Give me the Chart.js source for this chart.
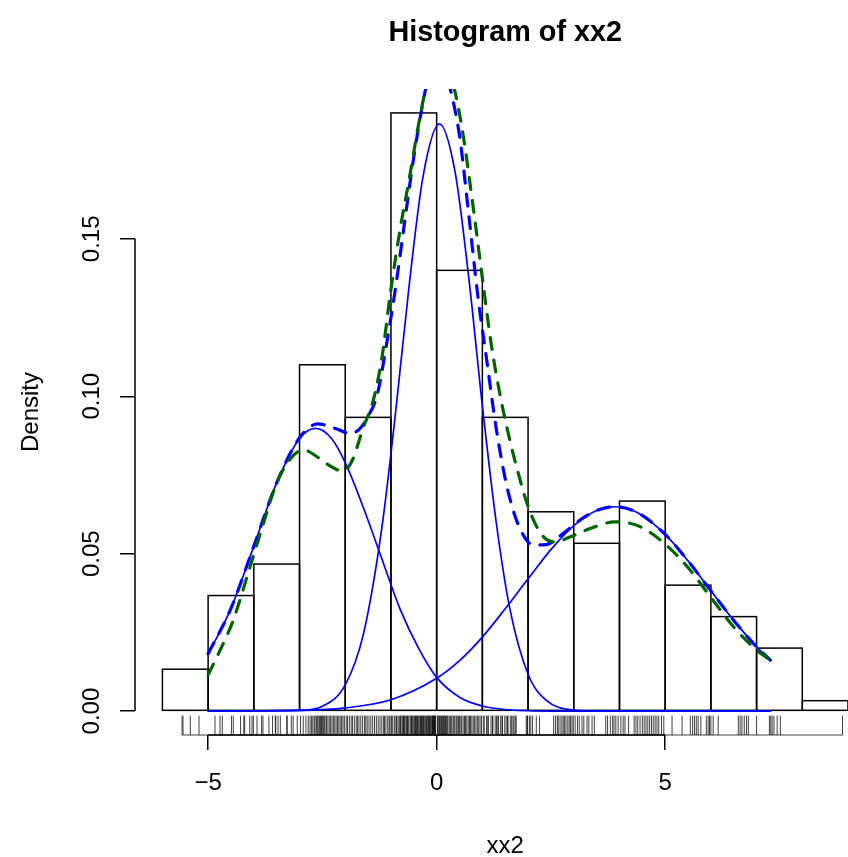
<!DOCTYPE html>
<html><head><meta charset="utf-8">
<script src="https://cdn.jsdelivr.net/npm/chart.js@4.4.0/dist/chart.umd.min.js"></script>
<style>html,body{margin:0;padding:0;background:#fff}canvas{display:block}</style>
</head><body>
<canvas id="c" width="848" height="857"></canvas>
<script>
// ---------- data ----------
const breaks = [-6,-5,-4,-3,-2,-1,0,1,2,3,4,5,6,7,8,9];
const density = [0.0133,0.0367,0.0467,0.1100,0.0933,0.1900,0.1400,0.0933,0.0633,0.0533,0.0667,0.0400,0.0300,0.0200,0.0033];

const comp1X = [-5.0,-4.5,-4.0,-3.5,-3.0,-2.65,-2.3,-2.0,-1.6,-1.2,-0.8,-0.4,0.0,0.5,1.0,1.5,2.0,2.5,3.0,7.3];
const comp1Y = [0.0180,0.0326,0.0524,0.0725,0.0866,0.0898,0.0866,0.0789,0.0645,0.0484,0.0324,0.0201,0.0107,0.0044,0.0016,0.0005,0.0001,0.0,0.0,0.0];

const comp2X = [-5.0,-3.0,-2.5,-2.0,-1.6,-1.2,-0.9,-0.6,-0.3,0.06,0.4,0.7,1.0,1.3,1.6,2.0,2.4,3.0,3.5,7.3];
const comp2Y = [0.0,0.0002,0.0015,0.0083,0.0246,0.0581,0.0947,0.1354,0.1696,0.1865,0.1715,0.1380,0.0970,0.0603,0.0326,0.0117,0.0034,0.0003,0.0,0.0];

const comp3X = [-5.0,-3.0,-2.0,-1.0,0.0,0.5,1.0,1.5,2.0,2.5,3.0,3.5,3.9,4.4,5.0,5.5,6.0,6.5,7.0,7.3];
const comp3Y = [0.0,0.0002,0.0010,0.0036,0.0104,0.0160,0.0235,0.0325,0.0420,0.0513,0.0589,0.0637,0.0649,0.0630,0.0561,0.0477,0.0382,0.0288,0.0204,0.0162];

const mixX = [-5.0,-4.5,-4.0,-3.5,-3.0,-2.6,-2.2,-1.9,-1.7,-1.5,-1.3,-1.1,-0.9,-0.7,-0.5,-0.3,-0.1,0.1,0.3,0.5,0.7,0.9,1.1,1.3,1.5,1.7,1.9,2.1,2.4,2.8,3.2,3.6,3.9,4.4,5.0,5.5,6.0,6.5,7.0,7.3];
const mixY = [0.0182,0.0326,0.0524,0.0725,0.0868,0.0912,0.0897,0.0882,0.0894,0.0936,0.1005,0.1162,0.1344,0.1554,0.1760,0.1933,0.2056,0.2074,0.1975,0.1828,0.1580,0.1320,0.1110,0.0901,0.0738,0.0626,0.0558,0.0528,0.0529,0.0568,0.0613,0.0642,0.0649,0.0630,0.0561,0.0477,0.0382,0.0288,0.0204,0.0162];

const kdeX = [-5.0,-4.7,-4.45,-4.1,-3.8,-3.5,-3.15,-2.9,-2.6,-2.3,-2.05,-1.85,-1.6,-1.4,-1.2,-1.0,-0.8,-0.6,-0.4,-0.2,0.05,0.3,0.45,0.6,0.8,1.0,1.2,1.4,1.6,1.8,2.0,2.3,2.6,2.9,3.4,3.9,4.45,5.0,5.5,6.0,6.5,7.0,7.3];
const kdeY = [0.0115,0.0205,0.0289,0.0450,0.0592,0.0724,0.0810,0.0829,0.0806,0.0776,0.0762,0.0795,0.0903,0.0980,0.1120,0.1340,0.1530,0.1690,0.1860,0.2000,0.2080,0.2020,0.1935,0.1810,0.1600,0.1375,0.1160,0.0995,0.0861,0.0748,0.0650,0.0560,0.0537,0.0552,0.0582,0.0601,0.0586,0.0530,0.0456,0.0361,0.0267,0.0194,0.0162];

const rugX = [
 -5.57,-5.55,-5.39,-5.20,
 -4.85,-4.74,-4.69,-4.49,-4.45,-4.29,-4.22,-4.20,-4.09,-4.04,-4.01,
 -3.93,-3.83,-3.80,-3.67,-3.59,-3.53,-3.52,-3.47,-3.42,-3.28,-3.27,-3.18,-3.14,-3.05,
 -2.98,-2.92,-2.86,-2.81,-2.77,-2.74,-2.71,-2.68,-2.66,-2.63,-2.61,-2.58,-2.56,-2.54,-2.52,-2.50,-2.48,
 -2.46,-2.44,-2.41,-2.38,-2.35,-2.32,-2.29,-2.26,-2.23,-2.20,-2.17,-2.14,-2.11,-2.08,-2.05,-2.02,
 -1.98,-1.95,-1.91,-1.87,-1.84,-1.80,-1.76,-1.73,-1.70,-1.66,-1.62,-1.58,-1.55,-1.52,-1.48,-1.44,
 -1.40,-1.36,-1.32,-1.28,-1.24,-1.20,-1.16,-1.14,-1.11,-1.07,-1.04,-1.02,
 -0.99,-0.97,-0.93,-0.91,-0.88,-0.87,-0.84,-0.81,-0.79,-0.78,-0.75,-0.73,-0.72,-0.69,-0.66,-0.64,
 -0.63,-0.61,-0.58,-0.56,-0.55,-0.53,-0.50,-0.49,-0.47,-0.44,-0.42,-0.41,-0.39,-0.37,-0.35,-0.34,
 -0.31,-0.29,-0.28,-0.26,-0.24,-0.22,-0.21,-0.19,-0.18,-0.16,-0.15,-0.13,-0.12,-0.10,-0.09,-0.08,
 -0.07,-0.06,-0.05,-0.04,-0.03,-0.02,-0.46,-0.33,-0.70,
 0.02,0.03,0.05,0.06,0.08,0.10,0.11,0.13,0.15,0.17,0.19,0.20,0.22,0.24,0.27,0.29,0.31,0.33,0.36,0.38,
 0.40,0.43,0.45,0.48,0.50,0.53,0.55,0.58,0.61,0.63,0.66,0.69,0.72,0.74,0.77,0.80,0.83,0.86,0.89,0.92,0.95,0.98,
 1.02,1.04,1.09,1.12,1.13,1.19,1.22,1.23,1.28,1.31,1.34,1.35,1.40,1.43,1.44,1.49,1.52,1.55,1.56,1.61,
 1.64,1.67,1.69,1.72,1.74,1.96,1.98,1.99,
 2.03,2.06,2.10,2.18,2.25,2.56,2.60,2.64,2.66,2.70,2.74,2.77,2.80,2.83,2.87,2.90,2.93,2.96,2.99,
 3.03,3.08,3.12,3.18,3.22,3.29,3.33,3.40,3.45,3.70,3.74,3.80,3.85,3.88,3.92,3.97,
 4.03,4.08,4.12,4.20,4.32,4.36,4.40,4.45,4.50,4.54,4.58,4.62,4.66,4.70,4.74,4.78,4.82,4.86,4.92,4.97,
 5.15,5.37,5.55,5.60,5.64,5.68,5.72,5.78,5.90,5.94,5.97,6.00,
 6.05,6.16,6.60,6.64,6.68,6.73,6.78,6.82,7.00,
 7.28,7.31,7.34,7.38,7.45,7.52,
 8.88
];

const xTicks = [-5, 0, 5];
const yTicks = [0, 0.05, 0.10, 0.15];
const titleText = 'Histogram of xx2';
const xLabel = 'xx2';
const yLabel = 'Density';

// ---------- chart ----------
const FONT = "'Liberation Sans', Arial, Helvetica, sans-serif";
const usrX = [-6.6, 9.6];   // full R plot range in x (right part cropped)
const pts = (xs, ys) => xs.map((x, i) => ({x, y: ys[i]}));
const bars = density.map((d, i) => ({x: (breaks[i] + breaks[i+1]) / 2, y: d}));

const rStyle = {
  id: 'rStyle',
  afterDatasetDraw(chart, args) {
    // outline histogram bars as R does: one 1.5px line centred on each bar edge
    if (args.meta.type !== 'bar') return;
    const ctx = chart.ctx;
    ctx.save();
    ctx.strokeStyle = '#000';
    ctx.lineWidth = 1.5;
    for (const el of args.meta.data) {
      const p = el.getProps(['x', 'y', 'base', 'width'], true);
      ctx.strokeRect(p.x - p.width / 2, p.y, p.width, p.base - p.y);
    }
    ctx.restore();
  },
  afterDatasetsDraw(chart) {
    const {ctx, chartArea: a, scales: {x: xs}} = chart;
    ctx.save();
    const rugLen = 0.03 * (a.bottom - a.top);
    ctx.strokeStyle = '#000';
    ctx.lineWidth = 0.75;
    ctx.beginPath();
    for (const v of rugX) {
      const px = xs.getPixelForValue(v);
      ctx.moveTo(px, a.bottom);
      ctx.lineTo(px, a.bottom - rugLen);
    }
    ctx.moveTo(xs.getPixelForValue(Math.min(...rugX)), a.bottom);
    ctx.lineTo(xs.getPixelForValue(Math.max(...rugX)), a.bottom);
    ctx.stroke();
    ctx.restore();
  },
  afterDraw(chart) {
    const {ctx, chartArea: a, scales: {x: xs, y: ys}} = chart;
    ctx.save();
    ctx.strokeStyle = '#000';
    ctx.lineWidth = 1.5;
    ctx.beginPath();
    ctx.moveTo(xs.getPixelForValue(xTicks[0]), a.bottom);
    ctx.lineTo(xs.getPixelForValue(xTicks[xTicks.length-1]), a.bottom);
    ctx.moveTo(a.left, ys.getPixelForValue(yTicks[0]));
    ctx.lineTo(a.left, ys.getPixelForValue(yTicks[yTicks.length-1]));
    ctx.stroke();

    ctx.fillStyle = '#000';
    ctx.font = '24px ' + FONT;
    ctx.textAlign = 'center';
    ctx.textBaseline = 'alphabetic';
    for (const v of xTicks) {
      const lab = v < 0 ? '\u2212' + Math.abs(v) : String(v);
      ctx.fillText(lab, xs.getPixelForValue(v), a.bottom + 55);
    }
    ctx.fillText(xLabel, (xs.getPixelForValue(usrX[0]) + xs.getPixelForValue(usrX[1])) / 2, a.bottom + 118);

    for (const v of yTicks) {
      ctx.save();
      ctx.translate(a.left - 36.5, ys.getPixelForValue(v));
      ctx.rotate(-Math.PI / 2);
      ctx.fillText(v.toFixed(2), 0, 0);
      ctx.restore();
    }
    ctx.save();
    ctx.translate(a.left - 97, (a.top + a.bottom) / 2);
    ctx.rotate(-Math.PI / 2);
    ctx.fillText(yLabel, 0, 0);
    ctx.restore();

    ctx.font = 'bold 28.8px ' + FONT;
    ctx.fillText(titleText, (xs.getPixelForValue(usrX[0]) + xs.getPixelForValue(usrX[1])) / 2, 40.5);
    ctx.restore();
  }
};

const lineDs = (label, xs, ys, color, width, dash, order) => ({
  type: 'line', label, data: pts(xs, ys), borderColor: color, borderWidth: width,
  borderDash: dash, borderCapStyle: 'round', pointRadius: 0, fill: false,
  cubicInterpolationMode: 'monotone', clip: 0, order
});

new Chart(document.getElementById('c'), {
  type: 'bar',
  data: {
    datasets: [
      {type: 'bar', label: 'hist', data: bars, backgroundColor: 'rgba(0,0,0,0)',
       borderColor: 'rgba(0,0,0,0)', borderWidth: 0,
       barPercentage: 1, categoryPercentage: 1, order: 10},
      lineDs('comp1', comp1X, comp1Y, '#0000ff', 1.7, [], 5),
      lineDs('comp2', comp2X, comp2Y, '#0000ff', 1.7, [], 4),
      lineDs('comp3', comp3X, comp3Y, '#0000ff', 1.7, [], 3),
      lineDs('mixture', mixX, mixY, '#0000ff', 3.2, [12, 11], 2),
      lineDs('kde', kdeX, kdeY, '#006400', 3.2, [12, 11], 1)
    ]
  },
  options: {
    responsive: false, animation: false, devicePixelRatio: 1,
    layout: {padding: {top: 89, right: 0, bottom: 0, left: 0}},
    plugins: {legend: {display: false}, tooltip: {enabled: false}, title: {display: false}},
    scales: {
      x: {
        type: 'linear', min: -6.6, max: 9.0, offset: false,
        grid: {offset: false, drawOnChartArea: false, drawTicks: true, tickLength: 15, color: '#000', lineWidth: 1.5},
        border: {display: false},
        ticks: {display: false},
        afterBuildTicks: s => { s.ticks = xTicks.map(v => ({value: v})); },
        afterFit: s => { s.height = 122; }
      },
      y: {
        type: 'linear', min: -0.0076, max: 0.1976,
        grid: {drawOnChartArea: false, drawTicks: true, tickLength: 15, color: '#000', lineWidth: 1.5},
        border: {display: false},
        ticks: {display: false},
        afterBuildTicks: s => { s.ticks = yTicks.map(v => ({value: v})); },
        afterFit: s => { s.width = 135; }
      }
    }
  },
  plugins: [rStyle]
});
</script></body></html>
